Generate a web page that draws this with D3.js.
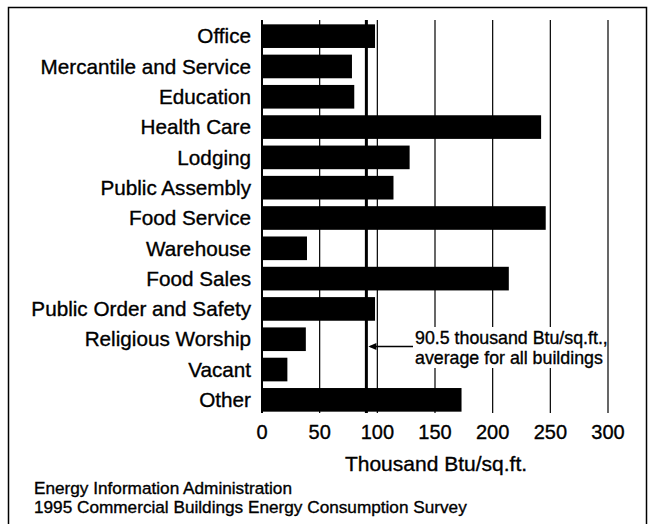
<!DOCTYPE html>
<html>
<head>
<meta charset="utf-8">
<script src="https://cdn.jsdelivr.net/npm/d3@7"></script>
<style>
  body { margin: 0; background: #fff; }
  svg text { font-family: "Liberation Sans", Arial, sans-serif; fill: #000; stroke: #000; stroke-width: 0.35; }
</style>
</head>
<body>
<svg id="chart" width="651" height="524"></svg>
<script>
const categories = ['Office', 'Mercantile and Service', 'Education', 'Health Care', 'Lodging',
  'Public Assembly', 'Food Service', 'Warehouse', 'Food Sales', 'Public Order and Safety',
  'Religious Worship', 'Vacant', 'Other'];
const values = [98, 78, 80, 242, 128, 114, 246, 39, 214, 98, 38, 22, 173];
const xTicks = [0, 50, 100, 150, 200, 250, 300];
const average = 90.5;
const noteLines = ['90.5 thousand Btu/sq.ft.,', 'average for all buildings'];
const sourceLines = ['Energy Information Administration', '1995 Commercial Buildings Energy Consumption Survey'];

const svg = d3.select('#chart');

// frame
svg.append('rect')
  .attr('x', 8.5).attr('y', 7.5)
  .attr('width', 638).attr('height', 530)
  .attr('fill', 'none').attr('stroke', '#000').attr('stroke-width', 1.5);

const x = d3.scaleLinear().domain([0, 300]).range([262, 608]);
const y = d3.scaleBand().domain(categories).range([21, 415]).paddingInner(0.22).paddingOuter(0.11);

// gridlines
svg.append('g').selectAll('line')
  .data(xTicks.slice(1))
  .join('line')
  .attr('x1', d => x(d)).attr('x2', d => x(d))
  .attr('y1', 20).attr('y2', 413)
  .attr('stroke', '#000').attr('stroke-width', 1.2);

// bars
svg.append('g').selectAll('rect')
  .data(values)
  .join('rect')
  .attr('x', x(0))
  .attr('y', (d, i) => y(categories[i]))
  .attr('width', d => x(d) - x(0))
  .attr('height', y.bandwidth())
  .attr('fill', '#000');

// y axis line
svg.append('line')
  .attr('x1', x(0)).attr('x2', x(0))
  .attr('y1', 20).attr('y2', 413)
  .attr('stroke', '#000').attr('stroke-width', 2);

// category labels
svg.append('g').selectAll('text')
  .data(categories)
  .join('text')
  .attr('x', 251)
  .attr('y', d => y(d) + y.bandwidth() / 2)
  .attr('dy', '0.35em')
  .attr('text-anchor', 'end')
  .attr('font-size', 20.7)
  .text(d => d);

// x tick labels
svg.append('g').selectAll('text')
  .data(xTicks)
  .join('text')
  .attr('x', d => x(d))
  .attr('y', 432)
  .attr('dy', '0.35em')
  .attr('text-anchor', 'middle')
  .attr('font-size', 20)
  .text(d => d);

svg.append('text')
  .attr('x', 436).attr('y', 464).attr('dy', '0.35em')
  .attr('text-anchor', 'middle')
  .attr('font-size', 21)
  .text('Thousand Btu/sq.ft.');

// average line
svg.append('line')
  .attr('x1', x(average)).attr('x2', x(average))
  .attr('y1', 20).attr('y2', 413)
  .attr('stroke', '#000').attr('stroke-width', 3);

// annotation
svg.append('rect')
  .attr('x', 412).attr('y', 327)
  .attr('width', 193).attr('height', 41)
  .attr('fill', '#fff');

svg.append('g').selectAll('text')
  .data(noteLines)
  .join('text')
  .attr('x', 415)
  .attr('y', (d, i) => 338 + i * 20)
  .attr('dy', '0.35em')
  .attr('font-size', 17.8)
  .text(d => d);

svg.append('line')
  .attr('x1', 413).attr('x2', x(average) + 4)
  .attr('y1', 346.5).attr('y2', 346.5)
  .attr('stroke', '#000').attr('stroke-width', 1.5);
svg.append('path')
  .attr('d', `M${x(average) + 2},346.5 l8,-3.5 l0,7 z`)
  .attr('fill', '#000');

// source
svg.append('g').selectAll('text')
  .data(sourceLines)
  .join('text')
  .attr('x', 34)
  .attr('y', (d, i) => 488 + i * 19)
  .attr('dy', '0.35em')
  .attr('font-size', 17.2)
  .text(d => d);
</script>
</body>
</html>
